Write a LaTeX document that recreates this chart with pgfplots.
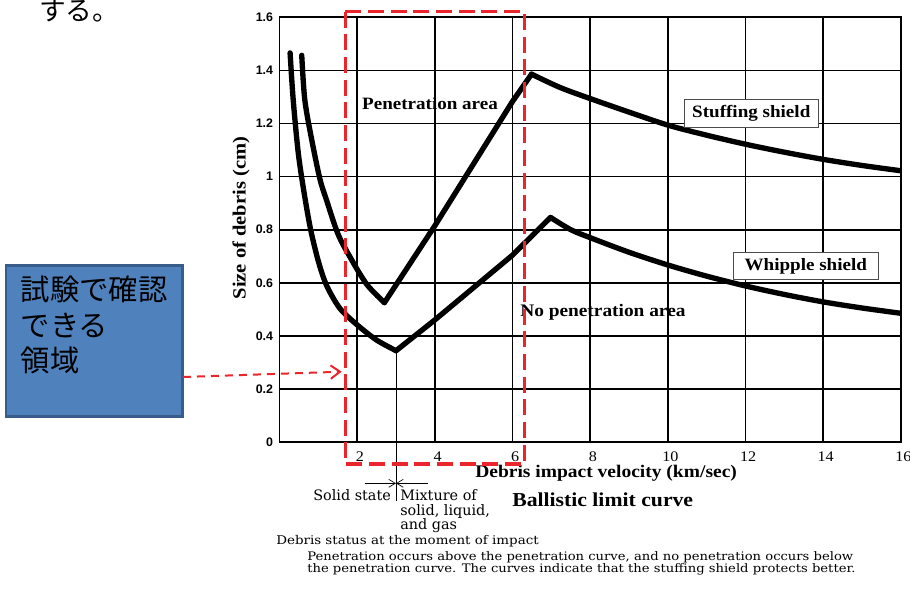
\documentclass[border=0pt]{standalone}
\usepackage{fontspec}
\usepackage{pgfplots}
\pgfplotsset{compat=1.18}
\usetikzlibrary{arrows.meta}
\setmainfont{Liberation Serif}
\newfontfamily\serifwide[FakeStretch=1.1]{Liberation Serif}
\newfontfamily\dejaserif{DejaVu Serif}
\newfontfamily\dejawide[FakeStretch=1.12]{DejaVu Serif}
\newfontfamily\libsans{Liberation Sans}
\newfontfamily\cjk{Noto Sans CJK JP}
\definecolor{redc}{RGB}{234,38,44}
\definecolor{boxblue}{RGB}{79,129,189}
\definecolor{boxborder}{RGB}{56,93,138}
\begin{document}
\begin{tikzpicture}
\useasboundingbox (0pt,0pt) rectangle (682.5pt,-444pt);
\begin{axis}[
  at={(209.7pt,-331.5pt)}, anchor=south west,
  scale only axis, width=465.8pt, height=318.5pt,
  xmin=0, xmax=16, ymin=0, ymax=1.6,
  xtick={2,4,6,8,10,12,14,16},
  xticklabels={2,4,6,8,10,12,14,16},
  ytick={0,0.2,0.4,0.6,0.8,1,1.2,1.4,1.6},
  yticklabels={0,0.2,0.4,0.6,0.8,1,1.2,1.4,1.6},
  grid=major, major grid style={black, line width=1.3pt},
  axis line style={black, line width=1.3pt},
  major tick length=0pt,
  xticklabel style={font=\serifwide\fontsize{11}{12}\selectfont, anchor=north, inner sep=0pt, yshift=-7pt, xshift=2pt},
  yticklabel style={font=\libsans\bfseries\fontsize{9.3}{11}\selectfont, anchor=east, inner sep=0pt, xshift=-4.7pt},
]
% Whipple shield (lower curve)
\addplot[black, line width=4pt, smooth, tension=0.5, line cap=round] coordinates {
(0.27,1.466) (0.35,1.29) (0.48,1.09) (0.63,0.94) (0.80,0.80) (1.0,0.68) (1.21,0.59) (1.55,0.504) (2.0,0.441) (2.5,0.384) (3.0,0.344)};
\addplot[black, line width=4pt, line cap=round, line join=round] coordinates {
(3.0,0.344) (4.0,0.46) (6.0,0.704) (6.98,0.846)};
\addplot[black, line width=4pt, smooth, tension=0.5, line cap=round] coordinates {
(6.98,0.846) (7.5,0.80) (8,0.77) (9,0.715) (10,0.667) (11,0.625) (12,0.588) (13,0.556) (14,0.528) (15,0.505) (16,0.485)};
% Stuffing shield (upper curve)
\addplot[black, line width=4pt, smooth, tension=0.5, line cap=round] coordinates {
(0.57,1.457) (0.65,1.288) (0.83,1.137) (1.04,0.99) (1.21,0.911) (1.5,0.785) (1.81,0.698) (2.24,0.595) (2.70,0.525)};
\addplot[black, line width=4pt, line cap=round, line join=round] coordinates {
(2.70,0.525) (4.0,0.815) (6.0,1.283) (6.49,1.386)};
\addplot[black, line width=4pt, smooth, tension=0.5, line cap=round] coordinates {
(6.49,1.386) (7.22,1.336) (8,1.294) (9,1.243) (10,1.194) (11,1.156) (12,1.122) (13,1.092) (14,1.065) (15,1.042) (16,1.022)};
\end{axis}
\begin{scope}[x=0.75pt,y=-0.75pt]
% in-plot texts
\node[anchor=base, inner sep=0pt, font=\serifwide\bfseries\fontsize{13}{15}\selectfont] at (430,109) {Penetration area};
\node[anchor=base west, inner sep=0pt, font=\serifwide\bfseries\fontsize{13.2}{15}\selectfont] at (520,316) {No penetration area};
\node[draw=black!70, fill=white, line width=0.75pt, minimum width=100.5pt, minimum height=20.8pt, inner sep=0pt, font=\serifwide\bfseries\fontsize{13}{15}\selectfont] at (751.3,113.8) {Stuffing shield};
\node[draw=black!70, fill=white, line width=0.75pt, minimum width=108.75pt, minimum height=20pt, inner sep=0pt, font=\serifwide\bfseries\fontsize{13}{15}\selectfont] at (805.8,266) {Whipple shield};
% axis labels
\node[rotate=90, inner sep=0pt, font=\serifwide\bfseries\fontsize{14}{16}\selectfont] at (241,218) {Size of debris (cm)};
\node[anchor=base west, inner sep=0pt, font=\serifwide\bfseries\fontsize{13.3}{15}\selectfont] at (475,477) {Debris impact velocity (km/sec)};
\node[anchor=base west, inner sep=0pt, font=\serifwide\bfseries\fontsize{14.8}{17}\selectfont] at (512,506) {Ballistic limit curve};
% debris status
\draw[line width=0.6pt] (396,352) -- (396,501);
\draw[line width=0.5pt, -{Straight Barb[length=5pt,width=6pt]}] (365,483.3) -- (396,483.3);
\draw[line width=0.5pt, -{Straight Barb[length=5pt,width=6pt]}] (428,483.3) -- (396,483.3);
\node[anchor=base west, inner sep=0pt, font=\dejaserif\fontsize{10.8}{11}\selectfont] at (313,500) {Solid state};
\node[anchor=north west, inner sep=0pt, align=left, font=\dejaserif\fontsize{10.8}{10.9}\selectfont] at (400,489.4) {Mixture of\\solid, liquid,\\and gas};
\node[anchor=base west, inner sep=0pt, font=\dejawide\fontsize{9}{11}\selectfont] at (276,544) {Debris status at the moment of impact};
\node[anchor=base west, inner sep=0pt, font=\dejawide\fontsize{8.8}{9}\selectfont] at (307,560) {Penetration occurs above the penetration curve, and no penetration occurs below};
\node[anchor=base west, inner sep=0pt, font=\dejawide\fontsize{8.8}{9}\selectfont] at (307,572) {the penetration curve. The curves indicate that the stuffing shield protects better.};
% red dashed region
\draw[redc, line width=2.5pt, dash pattern=on 12pt off 5pt] (345.3,11.7) rectangle (524.3,464);
% blue box
\draw[fill=boxblue, draw=boxborder, line width=2pt] (6,265.7) rectangle (182.3,416.7);
\node[anchor=north west, inner sep=0pt, align=left, font=\cjk\fontsize{22}{26.5}\selectfont] at (20.5,276) {試験で確認\\できる\\領域};
\draw[redc, line width=1.5pt, dash pattern=on 6pt off 4.5pt, -{Straight Barb[length=7pt,width=10pt]}] (183,377) -- (341.7,371.7);
\node[anchor=base west, inner sep=0pt, font=\cjk\fontsize{20}{24}\selectfont] at (39,21) {する。};
\end{scope}
\end{tikzpicture}
\end{document}
